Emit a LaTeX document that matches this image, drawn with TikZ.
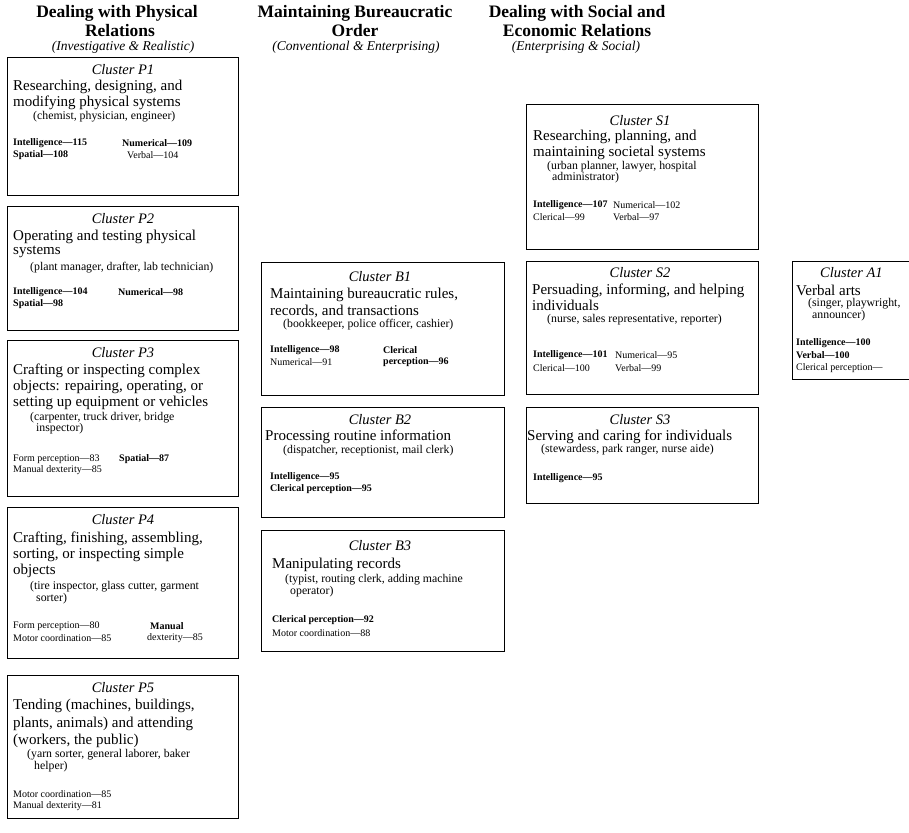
\documentclass[tikz,border=0pt]{standalone}
\usepackage{fontspec}
\setmainfont{Liberation Serif}
\newcounter{tnum}
\newcommand\tx[4][bd]{\stepcounter{tnum}\node[#1] (t\arabic{tnum}) at (#2,#3) {#4};}
\tikzset{
  box/.style={draw, line width=1.1pt, inner sep=0, anchor=north west},
  hd/.style={font=\fontsize{17.5}{18}\selectfont\bfseries, inner sep=0},
  sub/.style={font=\fontsize{13.5}{15}\selectfont\itshape, inner sep=0},
  ct/.style={font=\fontsize{14.5}{16}\selectfont\itshape, inner sep=0},
  bd/.style={font=\fontsize{15}{16}\selectfont, inner sep=0, anchor=west},
  ex/.style={font=\fontsize{11.8}{13}\selectfont, inner sep=0, anchor=west},
  st/.style={font=\fontsize{10}{11}\selectfont, inner sep=0, anchor=west},
  sb/.style={font=\fontsize{10}{11}\selectfont\bfseries, inner sep=0, anchor=west},
}
\begin{document}
\begin{tikzpicture}[x=1pt,y=-1pt]
\useasboundingbox (0,0) rectangle (909,832);
\begin{scope}
\clip (0,0) rectangle (909,832);
% headers
\tx[hd]{117}{13}{Dealing with Physical}
\tx[hd]{120}{31}{Relations}
\tx[sub]{123}{47}{(Investigative \& Realistic)}
\tx[hd]{355}{13}{Maintaining Bureaucratic}
\tx[hd]{355}{31}{Order}
\tx[sub]{356}{47}{(Conventional \& Enterprising)}
\tx[hd]{577}{13}{Dealing with Social and}
\tx[hd]{577}{31}{Economic Relations}
\tx[sub]{576}{47}{(Enterprising \& Social)}

% boxes
\node[box, minimum width=231pt, minimum height=138pt] (P1) at (7,57) {};
\node[box, minimum width=231pt, minimum height=124pt] (P2) at (7,206) {};
\node[box, minimum width=231pt, minimum height=156pt] (P3) at (7,340) {};
\node[box, minimum width=231pt, minimum height=151pt] (P4) at (7,507) {};
\node[box, minimum width=231pt, minimum height=143pt] (P5) at (7,675) {};
\node[box, minimum width=243pt, minimum height=133pt] (B1) at (261,262) {};
\node[box, minimum width=243pt, minimum height=110pt] (B2) at (261,407) {};
\node[box, minimum width=243pt, minimum height=121pt] (B3) at (261,530) {};
\node[box, minimum width=232pt, minimum height=145pt] (S1) at (526,104) {};
\node[box, minimum width=232pt, minimum height=133pt] (S2) at (526,261) {};
\node[box, minimum width=232pt, minimum height=96pt] (S3) at (526,407) {};
\node[box, minimum width=240pt, minimum height=118pt] (A1) at (792,261) {};

% P1
\tx[ct]{123}{70}{Cluster P1}
\tx{13}{87}{Researching, designing, and}
\tx{13}{103}{modifying physical systems}
\tx[ex]{33}{117}{(chemist, physician, engineer)}
\tx[sb]{13}{143}{Intelligence—115}
\tx[sb]{122}{143}{Numerical—109}
\tx[sb]{13}{155}{Spatial—108}
\tx[st]{127}{155}{Verbal—104}
% P2
\tx[ct]{123}{219}{Cluster P2}
\tx{13}{237}{Operating and testing physical}
\tx{13}{252}{systems}
\tx[ex]{30}{268}{(plant manager, drafter, lab technician)}
\tx[sb]{13}{292}{Intelligence—104}
\tx[sb]{118}{292}{Numerical—98}
\tx[sb]{13}{304}{Spatial—98}
% P3
\tx[ct]{123}{353}{Cluster P3}
\tx{13}{371}{Crafting or inspecting complex}
\tx{13}{387}{objects: repairing, operating, or}
\tx{13}{403}{setting up equipment or vehicles}
\tx[ex]{30}{418}{(carpenter, truck driver, bridge}
\tx[ex]{36}{429}{inspector)}
\tx[st]{13}{459}{Form perception—83}
\tx[sb]{119}{459}{Spatial—87}
\tx[st]{13}{470}{Manual dexterity—85}
% P4
\tx[ct]{123}{520}{Cluster P4}
\tx{13}{539}{Crafting, finishing, assembling,}
\tx{13}{555}{sorting, or inspecting simple}
\tx{13}{571}{objects}
\tx[ex]{30}{587}{(tire inspector, glass cutter, garment}
\tx[ex]{36}{599}{sorter)}
\tx[st]{13}{626}{Form perception—80}
\tx[sb]{150}{626}{Manual}
\tx[st]{13}{638}{Motor coordination—85}
\tx[st]{147}{638}{dexterity—85}
% P5
\tx[ct]{123}{688}{Cluster P5}
\tx{13}{706}{Tending (machines, buildings,}
\tx{13}{724}{plants, animals) and attending}
\tx{13}{741}{(workers, the public)}
\tx[ex]{27}{755}{(yarn sorter, general laborer, baker}
\tx[ex]{34}{767}{helper)}
\tx[st]{13}{794}{Motor coordination—85}
\tx[st]{13}{806}{Manual dexterity—81}
% B1
\tx[ct]{380}{277}{Cluster B1}
\tx{270}{295}{Maintaining bureaucratic rules,}
\tx{270}{311}{records, and transactions}
\tx[ex]{283}{325}{(bookkeeper, police officer, cashier)}
\tx[sb]{270}{350}{Intelligence—98}
\tx[sb]{383}{350}{Clerical}
\tx[st]{270}{362}{Numerical—91}
\tx[sb]{383}{362}{perception—96}
% B2
\tx[ct]{380}{420}{Cluster B2}
\tx{265}{437}{Processing routine information}
\tx[ex]{283}{451}{(dispatcher, receptionist, mail clerk)}
\tx[sb]{270}{477}{Intelligence—95}
\tx[sb]{270}{489}{Clerical perception—95}
% B3
\tx[ct]{380}{546}{Cluster B3}
\tx{272}{565}{Manipulating records}
\tx[ex]{285}{580}{(typist, routing clerk, adding machine}
\tx[ex]{290}{592}{operator)}
\tx[sb]{272}{620}{Clerical perception—92}
\tx[st]{272}{633}{Motor coordination—88}
% S1
\tx[ct]{640}{121}{Cluster S1}
\tx{533}{137}{Researching, planning, and}
\tx{533}{153}{maintaining societal systems}
\tx[ex]{547}{167}{(urban planner, lawyer, hospital}
\tx[ex]{552}{178}{administrator)}
\tx[sb]{533}{205}{Intelligence—107}
\tx[st]{613}{205}{Numerical—102}
\tx[st]{533}{217}{Clerical—99}
\tx[st]{613}{217}{Verbal—97}
% S2
\tx[ct]{640}{273}{Cluster S2}
\tx{532}{291}{Persuading, informing, and helping}
\tx{532}{305}{individuals}
\tx[ex]{547}{320}{(nurse, sales representative, reporter)}
\tx[sb]{533}{355}{Intelligence—101}
\tx[st]{615}{355}{Numerical—95}
\tx[st]{533}{368}{Clerical—100}
\tx[st]{615}{368}{Verbal—99}
% S3
\tx[ct]{640}{420}{Cluster S3}
\tx{527}{437}{Serving and caring for individuals}
\tx[ex]{541}{450}{(stewardess, park ranger, nurse aide)}
\tx[sb]{533}{478}{Intelligence—95}
% A1
\tx[ct,anchor=west]{820}{273}{Cluster A1}
\tx{796}{290}{Verbal arts}
\tx[ex]{808}{304}{(singer, playwright,}
\tx[ex]{812}{316}{announcer)}
\tx[sb]{796}{343}{Intelligence—100}
\tx[sb]{796}{355}{Verbal—100}
\tx[st]{796}{368}{Clerical perception—}
\end{scope}
\end{tikzpicture}
\end{document}
